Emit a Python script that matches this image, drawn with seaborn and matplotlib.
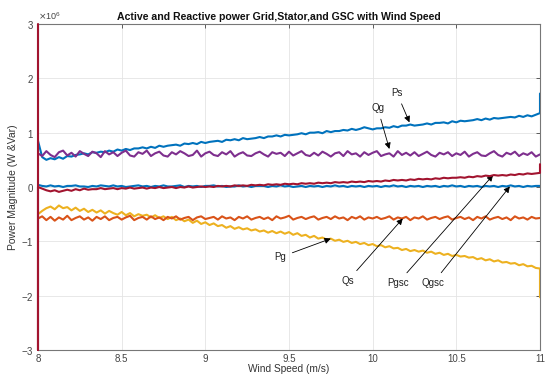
import numpy as np
import pandas as pd
import seaborn as sns
import matplotlib.pyplot as plt
from matplotlib.ticker import ScalarFormatter

# wind speed grid (m/s) and power values in units of 1e6 (W / Var)
wind = np.linspace(8, 11, 121)

ps = [0.85, 0.55, 0.50, 0.53, 0.51, 0.55, 0.52, 0.57, 0.56, 0.59,
      0.60, 0.62, 0.60, 0.64, 0.63, 0.65, 0.64, 0.67, 0.65, 0.69,
      0.67, 0.70, 0.68, 0.71, 0.71, 0.73, 0.71, 0.74, 0.72, 0.76,
      0.74, 0.76, 0.77, 0.78, 0.76, 0.80, 0.79, 0.81, 0.79, 0.83,
      0.81, 0.83, 0.84, 0.85, 0.83, 0.87, 0.86, 0.88, 0.86, 0.90,
      0.88, 0.89, 0.90, 0.92, 0.90, 0.93, 0.93, 0.95, 0.93, 0.96,
      0.95, 0.96, 0.97, 0.99, 0.97, 1.00, 1.00, 1.01, 0.99, 1.03,
      1.01, 1.03, 1.03, 1.05, 1.04, 1.07, 1.05, 1.07, 1.10, 1.08,
      1.06, 1.08, 1.08, 1.10, 1.09, 1.12, 1.10, 1.13, 1.13, 1.15,
      1.13, 1.14, 1.15, 1.17, 1.15, 1.18, 1.18, 1.19, 1.17, 1.21,
      1.19, 1.22, 1.21, 1.22, 1.23, 1.25, 1.23, 1.26, 1.24, 1.27,
      1.26, 1.27, 1.28, 1.29, 1.28, 1.31, 1.29, 1.32, 1.30, 1.33,
      1.36]
ps_end = 1.72

qgsc = [0.04, 0.02, 0.01, 0.03, 0.01, 0.02, 0.00, 0.02, 0.02, 0.03,
        0.01, 0.01, 0.00, 0.02, 0.01, 0.03, 0.02, 0.01, 0.03, 0.01,
        0.02, 0.00, 0.01, 0.02, 0.03, 0.01, 0.02, 0.00, 0.02, 0.01,
        0.03, 0.01, 0.01, 0.02, 0.03, 0.00, 0.02, 0.01, 0.02, 0.00,
        0.02, 0.02, 0.03, 0.01, 0.02, 0.00, 0.01, 0.01, 0.03, 0.01,
        0.02, 0.00, 0.02, 0.02, 0.02, 0.00, 0.02, 0.01, 0.03, 0.01,
        0.02, 0.00, 0.01, 0.02, 0.00, 0.02, 0.01, 0.02, 0.00, 0.02,
        0.01, 0.03, 0.01, 0.02, 0.00, 0.02, 0.01, 0.02, 0.00, 0.02,
        0.01, 0.02, 0.00, 0.02, 0.01, 0.03, 0.01, 0.02, 0.00, 0.02,
        0.01, 0.02, 0.00, 0.02, 0.01, 0.02, 0.00, 0.02, 0.01, 0.03,
        0.01, 0.02, 0.00, 0.02, 0.01, 0.02, 0.00, 0.02, 0.01, 0.02,
        0.00, 0.02, 0.01, 0.03, 0.01, 0.02, 0.00, 0.02, 0.01, 0.02,
        0.02]

qg = [0.62, 0.57, 0.66, 0.59, 0.55, 0.64, 0.67, 0.58, 0.63, 0.56,
      0.66, 0.61, 0.57, 0.65, 0.62, 0.55, 0.66, 0.60, 0.64, 0.57,
      0.63, 0.67, 0.58, 0.56, 0.64, 0.61, 0.67, 0.57, 0.62, 0.65,
      0.58, 0.56, 0.64, 0.60, 0.66, 0.62, 0.57, 0.59, 0.67, 0.56,
      0.62, 0.65, 0.59, 0.57, 0.64, 0.60, 0.66, 0.56, 0.61, 0.64,
      0.58, 0.57, 0.62, 0.65, 0.60, 0.56, 0.64, 0.61, 0.63, 0.57,
      0.65, 0.58, 0.62, 0.66, 0.59, 0.57, 0.63, 0.58, 0.65, 0.61,
      0.56, 0.62, 0.64, 0.57, 0.66, 0.60, 0.62, 0.56, 0.64, 0.59,
      0.63, 0.66, 0.57, 0.60, 0.62, 0.56, 0.66, 0.59, 0.63, 0.58,
      0.64, 0.57, 0.61, 0.65, 0.59, 0.56, 0.63, 0.60, 0.64, 0.57,
      0.62, 0.59, 0.65, 0.56, 0.61, 0.64, 0.58, 0.57, 0.62, 0.66,
      0.59, 0.56, 0.63, 0.60, 0.65, 0.57, 0.62, 0.59, 0.64, 0.56,
      0.60]

pgsc = [0.00, -0.03, -0.06, -0.08, -0.06, -0.09, -0.07, -0.05, -0.07, -0.04,
        -0.06, -0.03, -0.05, -0.04, -0.04, -0.02, -0.04, -0.03, -0.02, -0.04,
        -0.02, -0.03, -0.01, -0.03, -0.02, -0.01, -0.03, -0.01, -0.02, 0.00,
        -0.02, -0.01, 0.00, -0.02, 0.00, -0.01, 0.01, -0.01, 0.00, 0.01,
        0.00, 0.01, 0.00, 0.02, 0.01, 0.02, 0.01, 0.03, 0.02, 0.03,
        0.02, 0.04, 0.03, 0.04, 0.03, 0.05, 0.04, 0.05, 0.04, 0.06,
        0.05, 0.06, 0.05, 0.07, 0.06, 0.07, 0.06, 0.08, 0.07, 0.08,
        0.07, 0.09, 0.08, 0.09, 0.08, 0.10, 0.09, 0.10, 0.09, 0.11,
        0.10, 0.11, 0.10, 0.12, 0.11, 0.13, 0.12, 0.13, 0.12, 0.14,
        0.13, 0.15, 0.14, 0.15, 0.14, 0.16, 0.15, 0.17, 0.16, 0.17,
        0.17, 0.18, 0.17, 0.19, 0.18, 0.20, 0.19, 0.21, 0.20, 0.22,
        0.21, 0.22, 0.21, 0.23, 0.22, 0.24, 0.23, 0.25, 0.24, 0.25,
        0.26]
pgsc_start = [3.0, -3.0]
pgsc_end = 0.42

qs = [-0.58, -0.54, -0.61, -0.55, -0.62, -0.56, -0.60, -0.53, -0.61, -0.57,
      -0.54, -0.60, -0.56, -0.62, -0.55, -0.59, -0.54, -0.61, -0.57, -0.55,
      -0.60, -0.56, -0.53, -0.61, -0.57, -0.55, -0.60, -0.54, -0.59, -0.56,
      -0.61, -0.55, -0.58, -0.54, -0.60, -0.57, -0.55, -0.61, -0.56, -0.54,
      -0.59, -0.57, -0.55, -0.60, -0.54, -0.58, -0.56, -0.61, -0.55, -0.58,
      -0.54, -0.60, -0.57, -0.55, -0.59, -0.56, -0.61, -0.54, -0.58, -0.56,
      -0.53, -0.60, -0.57, -0.55, -0.59, -0.56, -0.54, -0.60, -0.57, -0.55,
      -0.59, -0.54, -0.58, -0.56, -0.61, -0.55, -0.58, -0.54, -0.60, -0.56,
      -0.58, -0.55, -0.59, -0.57, -0.54, -0.60, -0.56, -0.58, -0.55, -0.61,
      -0.56, -0.58, -0.54, -0.60, -0.57, -0.55, -0.59, -0.56, -0.54, -0.60,
      -0.57, -0.55, -0.59, -0.56, -0.61, -0.55, -0.58, -0.54, -0.60, -0.57,
      -0.55, -0.59, -0.56, -0.61, -0.54, -0.58, -0.56, -0.60, -0.55, -0.58,
      -0.57]

pg = [-0.50, -0.44, -0.39, -0.36, -0.41, -0.34, -0.39, -0.37, -0.43, -0.38,
      -0.44, -0.40, -0.46, -0.42, -0.47, -0.43, -0.49, -0.44, -0.48, -0.51,
      -0.46, -0.52, -0.48, -0.54, -0.50, -0.53, -0.51, -0.56, -0.52, -0.57,
      -0.54, -0.59, -0.55, -0.61, -0.58, -0.63, -0.60, -0.66, -0.62, -0.68,
      -0.65, -0.70, -0.67, -0.72, -0.70, -0.75, -0.72, -0.77, -0.74, -0.78,
      -0.76, -0.80, -0.78, -0.82, -0.80, -0.84, -0.81, -0.85, -0.82, -0.86,
      -0.83, -0.88, -0.85, -0.90, -0.88, -0.93, -0.90, -0.95, -0.93, -0.97,
      -0.95, -0.99, -0.97, -1.01, -0.99, -1.03, -1.01, -1.05, -1.03, -1.07,
      -1.05, -1.09, -1.07, -1.11, -1.09, -1.13, -1.12, -1.16, -1.14, -1.18,
      -1.16, -1.19, -1.17, -1.21, -1.19, -1.23, -1.21, -1.25, -1.23, -1.27,
      -1.25, -1.28, -1.27, -1.30, -1.29, -1.33, -1.31, -1.35, -1.33, -1.37,
      -1.35, -1.39, -1.38, -1.41, -1.40, -1.44, -1.42, -1.46, -1.45, -1.49,
      -1.50]
pg_end = -2.03

labels = ["Ps", "Qg", "Pg", "Qs", "Pgsc", "Qgsc"]
label_pos = [(10.145, 1.73), (10.03, 1.45), (9.45, -1.29),
             (9.85, -1.73), (10.15, -1.77), (10.36, -1.77)]
arrow_tip = [(10.22, 1.19), (10.10, 0.70), (9.75, -0.95),
             (10.18, -0.58), (10.72, 0.22), (10.82, 0.01)]

scale = 1e6
series = [
    ("Ps", np.r_[wind, 11.0], np.r_[ps, ps_end], "#0072BD"),
    ("Qgsc", wind, np.array(qgsc), "#0072BD"),
    ("Pg", np.r_[wind, 11.0], np.r_[pg, pg_end], "#EDB120"),
    ("Qs", wind, np.array(qs), "#D95319"),
    ("Qg", wind, np.array(qg), "#7E2F8E"),
    ("Pgsc", np.r_[8.0, 8.0, wind, 11.0], np.r_[pgsc_start, pgsc, pgsc_end], "#A2142F"),
]

sns.set_theme(style="whitegrid")
plt.rcParams['font.family'] = ['Liberation Sans', 'DejaVu Sans']

fig = plt.figure(figsize=(5.45, 3.74), dpi=100)
ax = fig.add_axes([0.0697, 0.0642, 0.9211, 0.8716])

for name, x, y, col in series:
    df = pd.DataFrame({"wind": x, "power": y * scale})
    sns.lineplot(data=df, x="wind", y="power", ax=ax, color=col, lw=1.5,
                 sort=False, estimator=None)
# the start-up transient of Pgsc sits on the left axis edge
ax.lines[-1].set_clip_on(False)
ax.lines[-1].set_zorder(5)

for txt, (tx, ty), (hx, hy) in zip(labels, label_pos, arrow_tip):
    ax.annotate(txt, xy=(hx, hy * scale), xytext=(tx, ty * scale),
                ha="center", va="center", fontsize=7, color="#222222",
                arrowprops=dict(arrowstyle="-|>", color="black", lw=0.6,
                                mutation_scale=9, shrinkA=2, shrinkB=0))

ax.set_xlim(8, 11)
ax.set_ylim(-3e6, 3e6)
ax.set_xticks([8, 8.5, 9, 9.5, 10, 10.5, 11])
ax.set_xticklabels(["8", "8.5", "9", "9.5", "10", "10.5", "11"])
ax.set_yticks(np.arange(-3, 4) * scale)
fmt = ScalarFormatter(useMathText=True)
fmt.set_powerlimits((6, 6))
ax.yaxis.set_major_formatter(fmt)
ax.yaxis.get_offset_text().set_fontsize(6.5)
ax.yaxis.get_offset_text().set_color("#555555")

ax.grid(True, color="#e4e4e4", lw=0.6)
ax.tick_params(direction="in", top=True, right=True, length=3, width=0.6,
               labelsize=7, colors="#444444", pad=3)
for s in ax.spines.values():
    s.set_color("#777777")
    s.set_linewidth(0.8)

ax.set_title("Active and Reactive power Grid,Stator,and GSC with Wind Speed",
             fontsize=7.6, fontweight="bold", color="#111111", pad=3, x=0.48)
ax.set_xlabel("Wind Speed (m/s)", fontsize=7.3, color="#333333", labelpad=0)
ax.set_ylabel("Power Magnitude (W &Var)", fontsize=7.5, color="#333333", labelpad=2)

fig.savefig("out.png", dpi=100)
